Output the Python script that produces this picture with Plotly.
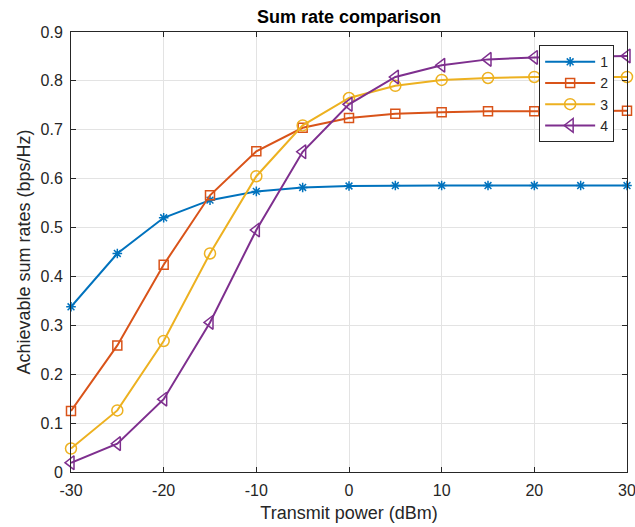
import plotly.graph_objects as go

# Transmit power sweep (dBm)
power_dbm = [-30, -25, -20, -15, -10, -5, 0, 5, 10, 15, 20, 25, 30]

# Achievable sum rates (bps/Hz) for each scheme
rate_1 = [0.338, 0.447, 0.520, 0.556, 0.574, 0.582, 0.585, 0.586, 0.586, 0.586, 0.586, 0.586, 0.586]
rate_2 = [0.125, 0.259, 0.424, 0.566, 0.656, 0.704, 0.724, 0.733, 0.736, 0.738, 0.738, 0.738, 0.739]
rate_3 = [0.048, 0.126, 0.268, 0.447, 0.605, 0.709, 0.765, 0.790, 0.802, 0.806, 0.808, 0.808, 0.808]
rate_4 = [0.019, 0.058, 0.149, 0.306, 0.495, 0.655, 0.752, 0.808, 0.832, 0.844, 0.848, 0.850, 0.851]

series_names = ["1", "2", "3", "4"]
x_ticks = [-30, -20, -10, 0, 10, 20, 30]
x_tick_text = ["-30", "-20", "-10", "0", "10", "20", "30"]
y_ticks = [0, 0.1, 0.2, 0.3, 0.4, 0.5, 0.6, 0.7, 0.8, 0.9]

colors = ["#0072BD", "#D95319", "#EDB120", "#7E2F8E"]
symbols = ["asterisk-open", "square-open", "circle-open", "triangle-left-open"]
sizes = [8, 9, 11, 12]

fig = go.Figure()
for name, ys, c, s, sz in zip(series_names, [rate_1, rate_2, rate_3, rate_4], colors, symbols, sizes):
    fig.add_trace(go.Scatter(
        x=power_dbm, y=ys, name=name, mode="lines+markers",
        line=dict(color=c, width=2),
        marker=dict(symbol=s, size=sz, color=c, line=dict(color=c, width=1.5)),
        cliponaxis=False,
    ))

font_fam = "Liberation Sans, Arial, sans-serif"
axis_common = dict(
    showline=True, linecolor="#262626", linewidth=1, mirror="ticks",
    ticks="inside", ticklen=5, tickcolor="#262626",
    showgrid=True, gridcolor="#e3e3e3", gridwidth=1,
    zeroline=False, automargin=False, ticklabeloverflow="allow",
    tickfont=dict(family=font_fam, size=16, color="#262626"),
)

fig.update_layout(
    width=635, height=527,
    margin=dict(l=71, r=8, t=32, b=55),
    paper_bgcolor="white", plot_bgcolor="white",
    title=dict(text="<b>Sum rate comparison</b>", x=0.5, xref="paper", xanchor="center",
               y=0.968, yref="container", yanchor="middle",
               font=dict(family=font_fam, size=18, color="#000000")),
    xaxis=dict(range=[-30, 30], tickvals=x_ticks, ticktext=x_tick_text, ticklabelstandoff=4,
               title=dict(text="Transmit power (dBm)", standoff=8,
                          font=dict(family=font_fam, size=18, color="#262626")),
               **axis_common),
    yaxis=dict(range=[0, 0.9], tickvals=y_ticks, ticklabelstandoff=4,
               title=dict(text="Achievable sum rates (bps/Hz)", standoff=5,
                          font=dict(family=font_fam, size=18, color="#262626")),
               **axis_common),
    legend=dict(x=0.842, y=0.970, xanchor="left", yanchor="top",
                bgcolor="white", bordercolor="#262626", borderwidth=1,
                font=dict(family=font_fam, size=14, color="#262626"),
                itemwidth=50, tracegroupgap=0),
    showlegend=True,
)

fig.write_html("out.html")
